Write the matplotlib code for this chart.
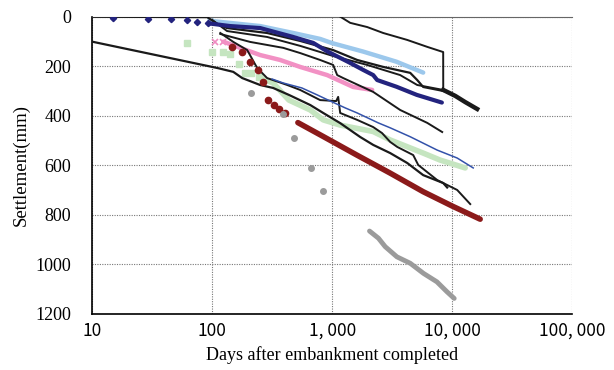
import numpy as np
import matplotlib
matplotlib.use("Agg")
import matplotlib.pyplot as plt

# --- data (days, settlement mm) ---
navy_days = [15, 29, 45, 62, 75, 93, 141, 251, 473, 695, 908, 1413, 1810, 2197, 2370, 3430, 5070, 8200]
navy_mm = [6, 8, 10, 13, 20, 27, 38, 46, 82, 106, 140, 187, 215, 236, 256, 283, 316, 347]

lblue_days = [96, 251, 473, 794, 1000, 1810, 3430, 5730]
lblue_mm = [17, 38, 66, 90, 107, 141, 182, 226]

pink_days = [106, 124, 171, 251, 369, 541, 908, 1496, 2154]
pink_mm = [101, 101, 126, 155, 175, 203, 236, 284, 296]

green_days = [62, 100, 124, 141, 168, 188, 211, 246, 322, 436, 657, 842, 1166, 2197, 3043, 5730, 7900, 12830]
green_mm = [107, 144, 144, 152, 192, 229, 229, 245, 268, 337, 377, 417, 438, 464, 498, 551, 579, 611]

red_days = [146, 177, 207, 242, 266, 293, 329, 362, 406, 518, 842, 1604, 3043, 5730, 10000, 17100]
red_mm = [122, 141, 182, 215, 262, 337, 357, 373, 389, 428, 484, 559, 632, 707, 765, 818]

gray_days = [210, 391, 483, 664, 842, 2047, 2431, 2765, 3460, 4467, 5768, 7454, 9036, 10390]
gray_mm = [309, 393, 490, 611, 703, 866, 895, 929, 970, 996, 1037, 1071, 1111, 1138]

blue_days = [316, 391, 559, 750, 926, 1290, 1616, 2420, 3043, 4467, 7500, 11000, 14960]
blue_mm = [252, 268, 288, 316, 337, 369, 389, 429, 449, 485, 539, 571, 611]

# black lines
k1_days = [10, 91, 110, 133, 287, 541, 1019, 1616, 2661, 4467, 5110, 5730, 8410]
k1_mm = [0, 2, 29, 46, 66, 98, 135, 175, 203, 227, 256, 284, 300]
k2_days = [100, 133, 287, 541, 1019, 1958, 3687, 5110, 8410]
k2_mm = [13, 58, 82, 118, 159, 195, 236, 276, 296]
k3_days = [117, 207, 391, 541, 794, 1019, 1101, 1235, 2197, 3687, 6190, 8250]
k3_mm = [70, 102, 126, 147, 175, 195, 236, 248, 304, 377, 429, 466]
k4_days = [1166, 1413, 1958, 2661, 4217, 6190, 8410, 8420, 10600, 12830, 16140]
k4_mm = [0, 25, 42, 66, 94, 122, 143, 296, 320, 345, 373]
k5_days = [117, 150, 196, 237, 287, 422, 541, 794, 1080, 1122, 1166, 1616, 2197, 2600, 3043, 3480,
           4732, 5210, 7500, 11000, 14130]
k5_mm = [66, 102, 135, 207, 248, 276, 296, 337, 341, 324, 389, 417, 446, 470, 506, 526,
         559, 599, 660, 700, 757]
k6_days = [10, 112, 150, 178, 251, 322, 436, 657, 842, 1166, 1711, 2197, 3043, 4217, 5730, 8410, 9080]
k6_mm = [101, 208, 223, 248, 276, 288, 316, 357, 389, 430, 486, 518, 551, 591, 640, 672, 690]

x_ticks = [10, 100, 1000, 10000, 100000]
x_labels = ["10", "100", "1, 000", "10, 000", "100, 000"]
y_ticks = [0, 200, 400, 600, 800, 1000, 1200]

fig = plt.figure(figsize=(6.14, 3.70), dpi=100)
ax = fig.add_axes([0.150, 0.152, 0.782, 0.803])

blk = "#1a1a1a"
ax.plot(k1_days, k1_mm, color=blk, lw=1.6, zorder=3)
ax.plot(k2_days, k2_mm, color=blk, lw=1.4, zorder=3)
ax.plot(k3_days, k3_mm, color=blk, lw=1.4, zorder=3)
ax.plot(k4_days[:8], k4_mm[:8], color=blk, lw=1.4, zorder=3)
ax.plot(k4_days[7:], k4_mm[7:], color=blk, lw=3.2, zorder=3)
ax.plot(k5_days, k5_mm, color=blk, lw=1.4, zorder=3)
ax.plot(k6_days, k6_mm, color=blk, lw=1.6, zorder=3)

# dense marker series drawn as bands, sparse early points as markers
ax.plot(lblue_days, lblue_mm, color="#9cc8ec", lw=3.2, solid_capstyle="round", zorder=2)
ax.plot(lblue_days[:1], lblue_mm[:1], "x", color="#9cc8ec", ms=4, zorder=2)

ax.plot(navy_days[:6], navy_mm[:6], "D", color="#23237e", ms=3.2, zorder=4, lw=0)
ax.plot(navy_days[5:], navy_mm[5:], color="#23237e", lw=3, solid_capstyle="round", zorder=4)

ax.plot(pink_days[:2], pink_mm[:2], "x", color="#f08cc2", ms=4, mew=1.2, zorder=2)
ax.plot(pink_days[1:], pink_mm[1:], color="#f291c4", lw=3.2, solid_capstyle="round", zorder=2)

ax.plot(green_days[:8], green_mm[:8], "s", color="#c5e5c0", ms=4.5, zorder=2, lw=0)
ax.plot(green_days[7:], green_mm[7:], color="#c5e5c0", lw=4, solid_capstyle="round", zorder=2)

ax.plot(blue_days, blue_mm, color="#3352aa", lw=1.1, zorder=3)

ax.plot(red_days[:9], red_mm[:9], "o", color="#8b1a1a", ms=4.5, zorder=3, lw=0)
ax.plot(red_days[9:], red_mm[9:], color="#8b1a1a", lw=4, solid_capstyle="round", zorder=3)

ax.plot(gray_days[:5], gray_mm[:5], "o", color="#9b9b9b", ms=4, zorder=3, lw=0)
ax.plot(gray_days[5:], gray_mm[5:], color="#9b9b9b", lw=3.5, solid_capstyle="round", zorder=3)

ax.set_xscale("log")
ax.set_xlim(10, 100000)
ax.set_ylim(1200, 0)
ax.set_xticks(x_ticks)
ax.set_xticklabels(x_labels, family=["Noto Sans CJK JP", "DejaVu Sans"], fontsize=12.5)
ax.xaxis.set_minor_locator(matplotlib.ticker.NullLocator())
ax.set_yticks(y_ticks)
ax.set_yticklabels([str(v) for v in y_ticks], family="Liberation Serif", fontsize=13)
ax.tick_params(axis="y", length=0, pad=15)
ax.tick_params(axis="x", length=0, pad=6)

ax.grid(True, color="#777777", lw=0.8, ls=(0, (1, 1.2)))
for s in ["left", "bottom"]:
    ax.spines[s].set_linewidth(1.2)
    ax.spines[s].set_color("black")
ax.spines["top"].set_color("#666666")
ax.spines["top"].set_linewidth(0.8)
ax.spines["right"].set_visible(False)

ax.set_xlabel("Days after embankment completed", family="Liberation Serif", fontsize=13, labelpad=4)
ax.set_ylabel("Settlement(mm)", family="Liberation Serif", fontsize=13.5, labelpad=4)

fig.savefig("out.png", dpi=100)
